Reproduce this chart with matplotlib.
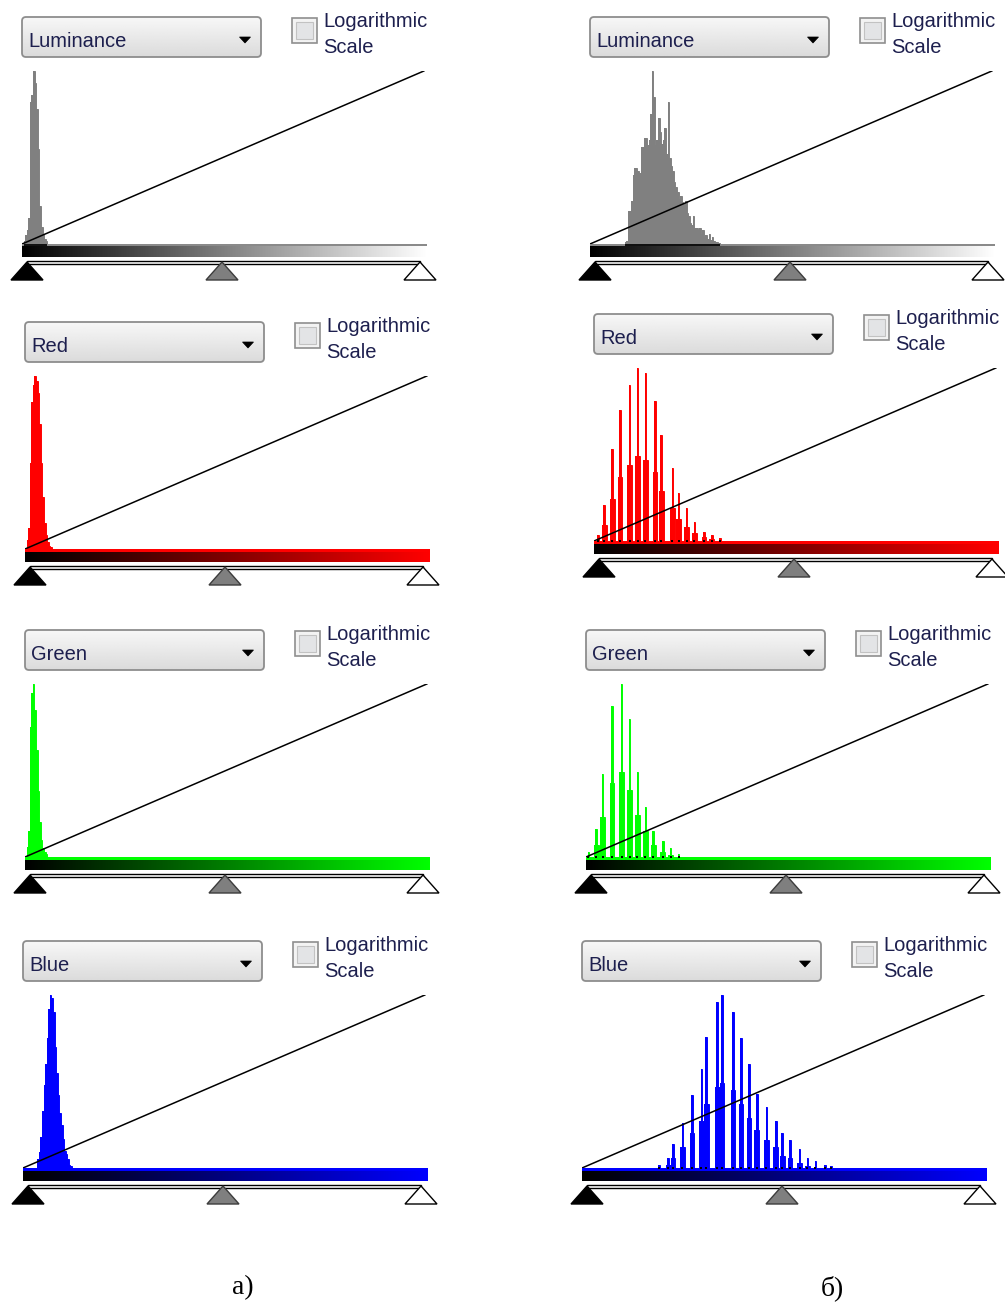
import numpy as np
import matplotlib.pyplot as plt
from matplotlib.patches import Rectangle, FancyBboxPatch, Polygon

W, H = 1005, 1306
NBINS = 256
BAR_W = 405      # width of the histogram / gradient strip, px
HIST_H = 173     # height of the histogram area, px

# ---- histograms, heights relative to the tallest bin ----
# a) original image: one narrow peak near black
lum_a_start = 1
lum_a = [0.02, 0.05, 0.08, 0.15, 0.82, 0.86, 1.0, 0.93, 0.78, 0.55, 0.22, 0.10, 0.06, 0.03, 0.015]
red_a_start = 1
red_a = [0.05, 0.12, 0.50, 0.85, 0.95, 1.0, 0.97, 0.90, 0.72, 0.50, 0.30, 0.15, 0.08, 0.04, 0.02, 0.01]
green_a_start = 1
green_a = [0.06, 0.15, 0.75, 0.95, 1.0, 0.85, 0.62, 0.38, 0.20, 0.10, 0.05, 0.03, 0.015]
blue_a_start = 9
blue_a = [0.05, 0.09, 0.18, 0.33, 0.48, 0.60, 0.75, 0.92, 1.0, 0.98, 0.90, 0.70, 0.55, 0.42,
          0.32, 0.25, 0.17, 0.10, 0.08, 0.05, 0.02, 0.01]

# б) stretched image
lum_b_start = 22
lum_b = [0.01, 0.02, 0.19, 0.19, 0.25, 0.40, 0.44, 0.44, 0.42, 0.41, 0.56, 0.56, 0.61, 0.61,
         0.57, 0.60, 0.75, 1.0, 0.85, 0.57, 0.60, 0.73, 0.65, 0.58, 0.60, 0.67, 0.52, 0.82,
         0.50, 0.45, 0.42, 0.36, 0.33, 0.30, 0.26, 0.28, 0.24, 0.23, 0.25, 0.18, 0.16, 0.12,
         0.11, 0.16, 0.09, 0.09, 0.08, 0.09, 0.06, 0.08, 0.04, 0.05, 0.03, 0.06, 0.025, 0.04,
         0.015, 0.01, 0.01, 0.005]

red_b_bins = [2, 6, 11, 16, 22, 27, 32, 38, 42, 49, 53, 58, 63, 69, 74, 79]
red_b_peaks = [0.035, 0.21, 0.53, 0.76, 0.90, 1.0, 0.97, 0.81, 0.61, 0.42, 0.28, 0.19, 0.11, 0.05, 0.035, 0.02]
red_b_shoulders = [0.0, 0.09, 0.24, 0.37, 0.44, 0.49, 0.47, 0.40, 0.29, 0.19, 0.13, 0.08, 0.045, 0.025, 0.01, 0.0]

green_b_bins = [1, 6, 10, 16, 22, 27, 32, 37, 42, 48, 53, 58]
green_b_peaks = [0.03, 0.16, 0.48, 0.87, 1.0, 0.80, 0.49, 0.29, 0.15, 0.09, 0.05, 0.02]
green_b_shoulders = [0.0, 0.07, 0.23, 0.43, 0.49, 0.39, 0.24, 0.15, 0.07, 0.03, 0.01, 0.0]

blue_b_bins = [48, 54, 57, 63, 69, 75, 78, 85, 88, 95, 100, 105, 110, 116, 122, 126, 131, 137,
               142, 147, 153, 157]
blue_b_peaks = [0.02, 0.06, 0.14, 0.26, 0.42, 0.57, 0.76, 0.96, 1.0, 0.90, 0.75, 0.60, 0.43, 0.35,
                0.27, 0.20, 0.16, 0.11, 0.06, 0.04, 0.02, 0.01]
blue_b_shoulders = [0.0, 0.02, 0.06, 0.12, 0.20, 0.27, 0.37, 0.47, 0.49, 0.45, 0.37, 0.29, 0.22,
                    0.16, 0.12, 0.07, 0.06, 0.03, 0.01, 0.0, 0.0, 0.0]

channels = ['Luminance', 'Red', 'Green', 'Blue']
hist_colors = ['#808080', '#ff0000', '#00ff00', '#0000ff']
ramp_ends = ['#ffffff', '#ff0000', '#00ff00', '#0000ff']
captions = ['a)', 'б)']


def peak_hist(start, vals):
    h = np.zeros(NBINS)
    h[start:start + len(vals)] = vals
    return h


def comb_hist(bins, peaks, shoulders):
    h = np.zeros(NBINS)
    for b, p, s in zip(bins, peaks, shoulders):
        for nb in (b - 1, b + 1):
            if 0 <= nb < NBINS:
                h[nb] = max(h[nb], s)
        h[b] = p
    return h


hists_a = [peak_hist(lum_a_start, lum_a), peak_hist(red_a_start, red_a),
           peak_hist(green_a_start, green_a), peak_hist(blue_a_start, blue_a)]
hists_b = [peak_hist(lum_b_start, lum_b),
           comb_hist(red_b_bins, red_b_peaks, red_b_shoulders),
           comb_hist(green_b_bins, green_b_peaks, green_b_shoulders),
           comb_hist(blue_b_bins, blue_b_peaks, blue_b_shoulders)]
ticks_b = [None, red_b_bins, green_b_bins, blue_b_bins]

# top-left corner of every gradient strip (x, y in px from the top)
anchors_a = [(22, 244), (25, 549), (25, 857), (23, 1168)]
anchors_b = [(590, 244), (594, 541), (586, 857), (582, 1168)]

fig = plt.figure(figsize=(W / 100, H / 100), dpi=100)
fig.patch.set_facecolor('white')
ui = fig.add_axes([0, 0, 1, 1])
ui.set_xlim(0, W)
ui.set_ylim(H, 0)
ui.axis('off')

UI_FONT = 'Liberation Sans'
TXT = '#1d1f4e'


def to_rgb(c):
    c = c.lstrip('#')
    return np.array([int(c[i:i + 2], 16) for i in (0, 2, 4)]) / 255.0


def draw_panel(x0, y0, name, hcol, rcol, hist, ticks):
    # combo box
    top = y0 - 227
    box = FancyBboxPatch((x0, top), 239, 40, boxstyle='round,pad=0,rounding_size=4',
                         fc='none', ec='#8d8d8d', lw=1.3, zorder=3)
    ui.add_patch(box)
    shade = np.linspace(0.97, 0.86, 40)[:, None] * np.ones((1, 2))
    im = ui.imshow(shade, cmap='gray', vmin=0, vmax=1, extent=[x0, x0 + 239, top + 40, top],
                   aspect='auto', interpolation='bilinear', zorder=2)
    im.set_clip_path(box)
    ui.text(x0 + 6, top + 30, name, fontsize=14.5, family=UI_FONT, color=TXT, zorder=4)
    ax_c = x0 + 223
    ui.add_patch(Polygon([(ax_c - 5.5, top + 20), (ax_c + 5.5, top + 20), (ax_c, top + 26)],
                         closed=True, fc='black', ec='black', lw=0.5, zorder=4))

    # check box with its label
    cx, cy = x0 + 270, y0 - 226
    ui.add_patch(Rectangle((cx, cy), 25, 25, fc='#f3f3f3', ec='#8f8f8f', lw=1.2, zorder=3))
    ui.add_patch(Rectangle((cx + 4, cy + 4), 17, 17, fc='#e3e4e6', ec='#c2c2c2', lw=0.8, zorder=4))
    ui.text(cx + 31, y0 - 217, 'Logarithmic', fontsize=14.5, family=UI_FONT, color=TXT, zorder=4)
    ui.text(cx + 31, y0 - 191, 'Scale', fontsize=14.5, family=UI_FONT, color=TXT, zorder=4)

    # black -> channel colour ramp under the histogram
    ramp = np.linspace(0, 1, 256)[:, None] * to_rgb(rcol)[None, :]
    ui.imshow(ramp[None, :, :], extent=[x0, x0 + BAR_W, y0 + 13, y0], aspect='auto',
              interpolation='bilinear', zorder=2)
    if name == 'Luminance':
        ui.add_patch(Rectangle((x0, y0), BAR_W, 2, fc='#8a8a8a', ec='none', zorder=3))
        nz = np.nonzero(hist)[0]
        ui.add_patch(Rectangle((x0 + nz[0] * BAR_W / NBINS, y0),
                               (nz[-1] - nz[0] + 1) * BAR_W / NBINS, 2,
                               fc='#111111', ec='none', zorder=3))
    else:
        ui.add_patch(Rectangle((x0, y0), BAR_W, 3, fc=hcol, ec='none', zorder=3))

    # slider track and the three level markers
    ui.add_patch(Rectangle((x0 + 5, y0 + 17), 393, 3, fc='white', ec='black', lw=1.0, zorder=3))
    for px, fc, ec in [(x0 + 5, 'black', 'black'), (x0 + 200, '#7f7f7f', '#3c3c3c'),
                       (x0 + 398, 'white', 'black')]:
        ui.add_patch(Polygon([(px, y0 + 18), (px - 16, y0 + 36), (px + 16, y0 + 36)],
                             closed=True, fc=fc, ec=ec, lw=1.0, zorder=4))

    # histogram itself plus the transfer curve
    ax = fig.add_axes([x0 / W, 1 - y0 / H, BAR_W / W, HIST_H / H])
    ax.set_xlim(0, NBINS)
    ax.set_ylim(0, 1)
    ax.axis('off')
    ax.patch.set_alpha(0)
    edges = np.arange(NBINS + 1)
    ax.stairs(hist, edges, fill=True, color=hcol, lw=0)
    ax.stairs(hist, edges, fill=False, color=hcol, lw=0.7)
    if ticks is not None:
        ax.plot(np.array(ticks) + 0.5, np.zeros(len(ticks)), 's', ms=1.6, color='black',
                mew=0, clip_on=False, zorder=5)
    ax.plot([0, 254], [0, 1], color='black', lw=1.1, zorder=6)


for i in range(4):
    draw_panel(*anchors_a[i], channels[i], hist_colors[i], ramp_ends[i], hists_a[i], None)
    draw_panel(*anchors_b[i], channels[i], hist_colors[i], ramp_ends[i], hists_b[i], ticks_b[i])

ui.text(243, 1288, captions[0], fontsize=20, family='Liberation Serif', ha='center', va='center')
ui.text(832, 1288, captions[1], fontsize=20, family='Liberation Serif', ha='center', va='center')

fig.savefig('out.png', dpi=100, facecolor='white')
